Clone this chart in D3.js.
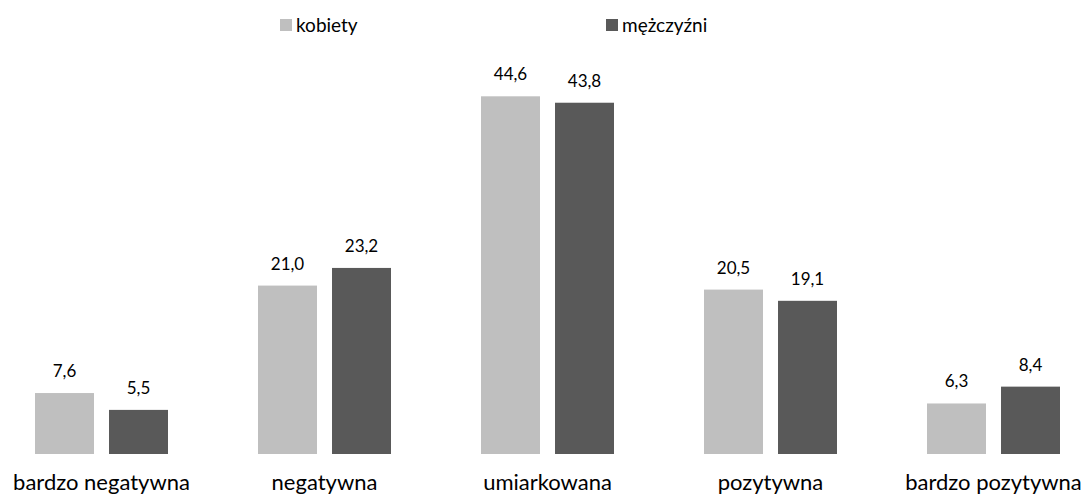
<!DOCTYPE html>
<html><head><meta charset="utf-8">
<script src="https://cdn.jsdelivr.net/npm/d3@7"></script>
<style>body{margin:0;background:#fff;} svg{display:block;} text{font-family:Lato,"Open Sans",sans-serif;fill:#000;}</style>
</head><body>
<svg id="c" width="1083" height="495"></svg>
<script>
const categories = ["bardzo negatywna","negatywna","umiarkowana","pozytywna","bardzo pozytywna"];
const seriesNames = ["kobiety","mężczyźni"];
const kobiety = [7.6, 21.0, 44.6, 20.5, 6.3];
const mezczyzni = [5.5, 23.2, 43.8, 19.1, 8.4];
const colors = ["#bfbfbf","#595959"];

const svg = d3.select("#c");
const seriesValues = [kobiety, mezczyzni];
const locale = d3.formatLocale({decimal:",", thousands:" ", grouping:[3], currency:["","zł"]});
const fmt = locale.format(".1f");

const x0 = d3.scaleBand().domain(categories).range([-10, 1105]).padding(0);
const x1 = d3.scaleBand().domain(seriesNames).range([45, 178]).paddingInner(0.203).paddingOuter(0);
const y = d3.scaleLinear().domain([0, 50]).range([454, 53]);

const data = [];
categories.forEach((c,i)=>seriesNames.forEach((s,j)=>data.push({c, s, v: seriesValues[j][i], j})));

svg.selectAll("rect.bar").data(data).join("rect").attr("class","bar")
  .attr("x", d=>x0(d.c)+x1(d.s)).attr("width", x1.bandwidth())
  .attr("y", d=>y(d.v)).attr("height", d=>y(0)-y(d.v))
  .attr("fill", d=>colors[d.j]);

svg.selectAll("text.val").data(data).join("text").attr("class","val")
  .attr("x", d=>x0(d.c)+x1(d.s)+x1.bandwidth()/2)
  .attr("y", d=>y(d.v)-16)
  .attr("text-anchor","middle").style("font-size","17px")
  .text(d=>fmt(d.v));

svg.selectAll("text.cat").data(categories).join("text").attr("class","cat")
  .attr("x", d=>x0(d)+x0.bandwidth()/2).attr("y", 490)
  .attr("text-anchor","middle").style("font-size","22px")
  .text(d=>d);

const legX = [280, 606];
const leg = svg.selectAll("g.leg").data(seriesNames).join("g").attr("class","leg")
  .attr("transform",(d,i)=>`translate(${legX[i]},0)`);
leg.append("rect").attr("x",0).attr("y",19).attr("width",12).attr("height",12).attr("fill",(d,i)=>colors[i]);
leg.append("text").attr("x",16).attr("y",32).style("font-size","19px").text(d=>d);
</script>
</body></html>
